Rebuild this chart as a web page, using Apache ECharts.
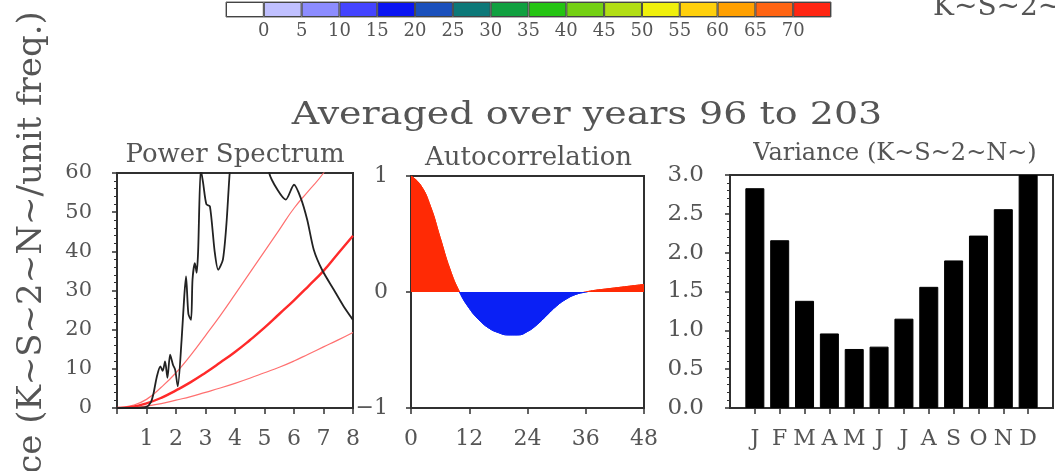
<!DOCTYPE html>
<html><head><meta charset="utf-8">
<script src="https://cdn.jsdelivr.net/npm/echarts@6/dist/echarts.min.js"></script>
<style>html,body{margin:0;padding:0;background:#fff}#c{width:1055px;height:471px}</style>
</head><body><div id="c"></div>
<script>
// ---------- data ----------
const CB_COLORS = ['#ffffff','#c0c0ff','#8c8cff','#4444ff','#0a14f2','#1a50bc','#0c7878','#10a040',
                   '#24c412','#74d012','#b2de14','#f0f00c','#ffd00c','#ffa000','#ff6412','#ff2612'];
const CB_LABELS = ['0','5','10','15','20','25','30','35','40','45','50','55','60','65','70'];

const PS_FREQ  = [0, 0.5, 1.0, 1.15, 1.24, 1.35, 1.47, 1.55, 1.63, 1.71, 1.80, 1.90, 1.97, 2.06, 2.19, 2.28, 2.34,
                  2.42, 2.51, 2.56, 2.64, 2.70, 2.75, 2.84, 2.92, 3.03, 3.15, 3.31, 3.43, 3.59, 3.71, 3.82, 4.0,
                  4.3, 4.7, 5.0, 5.16, 5.44, 5.72, 6.0, 6.23, 6.45, 6.67, 6.95, 7.35, 7.68, 8.0];
const PS_POWER = [0, 0, 0.3, 1.5, 3.8, 8, 10.6, 9.5, 11.9, 7.7, 13.6, 11, 9.8, 5.5, 17.4, 28.5, 33.6,
                  24, 22.5, 32.8, 37, 34.5, 40, 61, 57.4, 52, 51.5, 40, 35.3, 37.9, 47, 60, 75,
                  88, 90, 72, 60, 55.7, 53.2, 57, 53.6, 48, 40.4, 35.3, 30.2, 26, 22.5];

const RED_FREQ = [0, 0.5, 1, 1.5, 2, 2.5, 3, 3.5, 4, 4.5, 5, 5.5, 6, 6.5, 7, 7.5, 8];
const RED_MID  = [0, 0.3, 1.2, 2.6, 4.5, 6.6, 9.0, 11.6, 14.3, 17.3, 20.5, 24.0, 27.5, 31.2, 35.0, 39.5, 44.0];
const RED_HI   = [0, 0.6, 2.2, 5.3, 9.0, 13.5, 18.5, 23.6, 29.0, 34.5, 40.0, 45.5, 51.0, 55.5, 60.0, 66.0, 73.0];
const RED_LO   = [0, 0.1, 0.5, 1.1, 2.0, 2.9, 4.0, 5.1, 6.3, 7.6, 9.0, 10.4, 12.0, 13.8, 15.6, 17.4, 19.3];

const AC_LAG = [0, 2, 4, 6, 8, 10, 12, 14, 16, 18, 20, 22, 24, 26, 28, 30, 32, 34, 36, 38, 40, 42, 44, 46, 48];
const AC_VAL = [1.0, 0.92, 0.74, 0.47, 0.2, 0.0, -0.14, -0.24, -0.31, -0.35, -0.37, -0.37, -0.34, -0.28,
                -0.2, -0.12, -0.06, -0.02, 0.0, 0.015, 0.025, 0.035, 0.045, 0.055, 0.065];

const MONTHS   = ['J','F','M','A','M','J','J','A','S','O','N','D'];
const VARIANCE = [2.83, 2.16, 1.38, 0.96, 0.76, 0.79, 1.15, 1.56, 1.90, 2.22, 2.56, 3.0];

const MAIN_TITLE = 'Averaged over years 96 to 203';
const PANEL_TITLES = ['Power Spectrum', 'Autocorrelation', 'Variance (K~S~2~N~)'];
const Y_TITLE = 'Variance (K~S~2~N~/unit freq.)';
const TOP_RIGHT = 'K~S~2~N~)';

// ---------- chart ----------
const FONT = 'DejaVu Serif';
const TXT = '#555555';
const LINE = '#303030';
const AC_POS = '#ff2a05', AC_NEG = '#0a20f5';

function lbl(size, margin, extra) {
  return Object.assign({fontFamily: FONT, fontSize: size, color: TXT, margin: margin}, extra || {});
}
const axLine = {onZero: false, lineStyle: {color: LINE, width: 2}};
const tick = (len) => ({length: len, lineStyle: {color: LINE, width: 1.5}});

const chart = echarts.init(document.getElementById('c'), null, {renderer: 'canvas'});
const grids = [
  {left: 117, top: 173, width: 236, height: 235},
  {left: 411, top: 176, width: 233, height: 232},
  {left: 730, top: 175, width: 323, height: 233},
  {left: 226, top: 2, width: 605, height: 15}
].map(g => Object.assign({show: true, borderColor: LINE, borderWidth: 2, containLabel: false}, g));
grids[3].borderColor = '#666'; grids[3].borderWidth = 1;

const monthIdx = MONTHS.map((m, i) => i + 1);
const cbIdx = CB_LABELS.map((l, i) => i + 1);

const option = {
  animation: false,
  backgroundColor: '#fff',
  grid: grids,
  xAxis: [
    {gridIndex: 0, type: 'value', min: 0, max: 8, interval: 1, axisLine: axLine, axisTick: tick(6),
     axisLabel: lbl(22, 20, {formatter: v => v === 0 ? '' : String(v)}), splitLine: {show: false}},
    {gridIndex: 1, type: 'value', min: 0, max: 48, interval: 12, axisLine: axLine, axisTick: tick(6),
     axisLabel: lbl(22, 20), splitLine: {show: false}},
    {gridIndex: 2, type: 'value', min: 0, max: 13, interval: 1, axisLine: axLine,
     axisTick: Object.assign(tick(6), {customValues: monthIdx}),
     axisLabel: lbl(22, 20, {customValues: monthIdx, formatter: v => MONTHS[v - 1] || ''}), splitLine: {show: false}},
    {gridIndex: 3, type: 'category', data: CB_COLORS.map((c, i) => String(i)), show: false},
    {gridIndex: 3, type: 'value', min: 0, max: 16, interval: 1, position: 'bottom',
     axisLine: {show: false}, axisTick: {show: false}, splitLine: {show: false},
     axisLabel: lbl(18, 5, {customValues: cbIdx, formatter: v => CB_LABELS[v - 1] || ''})}
  ],
  yAxis: [
    {gridIndex: 0, type: 'value', min: 0, max: 60, interval: 10, axisLine: axLine, axisTick: tick(5),
     minorTick: {show: true, splitNumber: 5, length: 3, lineStyle: {color: LINE}},
     axisLabel: lbl(21, 25), splitLine: {show: false}},
    {gridIndex: 1, type: 'value', min: -1, max: 1, interval: 1, axisLine: axLine, axisTick: tick(5),
     axisLabel: lbl(22, 23, {formatter: v => v < 0 ? '\u2212' + Math.abs(v) : String(v)}), splitLine: {show: false}},
    {gridIndex: 2, type: 'value', min: 0, max: 3, interval: 0.5, axisLine: axLine, axisTick: tick(5),
     minorTick: {show: true, splitNumber: 5, length: 3, lineStyle: {color: LINE}},
     axisLabel: lbl(23, 26, {formatter: v => v.toFixed(1)}), splitLine: {show: false}},
    {gridIndex: 3, type: 'value', min: 0, max: 1, show: false}
  ],
  series: [
    {type: 'line', xAxisIndex: 0, yAxisIndex: 0, symbol: 'none', smooth: true, z: 2,
     lineStyle: {color: '#ff7070', width: 1.2}, data: RED_FREQ.map((f, i) => [f, RED_LO[i]])},
    {type: 'line', xAxisIndex: 0, yAxisIndex: 0, symbol: 'none', smooth: true, z: 2,
     lineStyle: {color: '#ff7070', width: 1.2}, data: RED_FREQ.map((f, i) => [f, RED_HI[i]])},
    {type: 'line', xAxisIndex: 0, yAxisIndex: 0, symbol: 'none', smooth: true, z: 2,
     lineStyle: {color: '#ff2a2a', width: 2.4}, data: RED_FREQ.map((f, i) => [f, RED_MID[i]])},
    {type: 'line', xAxisIndex: 0, yAxisIndex: 0, symbol: 'none', smooth: 0.25, z: 3,
     lineStyle: {color: '#222', width: 1.8}, data: PS_FREQ.map((f, i) => [f, PS_POWER[i]])},
    {type: 'line', xAxisIndex: 1, yAxisIndex: 1, symbol: 'none', smooth: true,
     lineStyle: {width: 1, color: AC_POS}, areaStyle: {opacity: 1, color: AC_POS},
     data: AC_LAG.map((l, i) => [l, AC_VAL[i]])},
    {type: 'bar', xAxisIndex: 2, yAxisIndex: 2, barWidth: 19,
     itemStyle: {color: '#000', borderColor: '#000', borderWidth: 1},
     data: MONTHS.map((m, i) => [i + 1, VARIANCE[i]])},
    {type: 'bar', xAxisIndex: 3, yAxisIndex: 3, barWidth: '100%', barCategoryGap: 0,
     itemStyle: {borderColor: '#444', borderWidth: 1},
     data: CB_COLORS.map(c => ({value: 1, itemStyle: {color: c}}))}
  ],
  graphic: [
    {type: 'text', x: 587, y: 115.5, scaleY: 0.83,
     style: {text: MAIN_TITLE, fontFamily: FONT, fontSize: 38, fill: TXT, align: 'center', verticalAlign: 'middle'}},
    {type: 'text', x: 235, y: 155,
     style: {text: PANEL_TITLES[0], fontFamily: FONT, fontSize: 26, fill: TXT, align: 'center', verticalAlign: 'middle'}},
    {type: 'text', x: 528.5, y: 158.5,
     style: {text: PANEL_TITLES[1], fontFamily: FONT, fontSize: 26, fill: TXT, align: 'center', verticalAlign: 'middle'}},
    {type: 'text', x: 895, y: 154,
     style: {text: PANEL_TITLES[2], fontFamily: FONT, fontSize: 24, fill: TXT, align: 'center', verticalAlign: 'middle'}},
    {type: 'text', x: 32, y: 298, rotation: Math.PI / 2,
     style: {text: Y_TITLE, fontFamily: FONT, fontSize: 34, fill: TXT, align: 'center', verticalAlign: 'middle'}},
    {type: 'text', x: 933, y: 8,
     style: {text: TOP_RIGHT, fontFamily: FONT, fontSize: 28, fill: TXT, align: 'left', verticalAlign: 'middle'}}
  ]
};
chart.setOption(option);

// Autocorrelation fill: red above the zero line, blue below (hard stop at y = 0 of panel 2)
const finder = {xAxisIndex: 1, yAxisIndex: 1};
const yTop = chart.convertToPixel(finder, [0, 1])[1];
const yZero = chart.convertToPixel(finder, [0, 0])[1];
const yBot = chart.convertToPixel(finder, [0, -1])[1];
const off = (yZero - yTop) / (yBot - yTop);
const grad = new echarts.graphic.LinearGradient(0, yTop, 0, yBot, [
  {offset: 0, color: AC_POS}, {offset: off, color: AC_POS},
  {offset: off, color: AC_NEG}, {offset: 1, color: AC_NEG}
], true);
chart.setOption({series: [{}, {}, {}, {}, {lineStyle: {color: grad}, areaStyle: {color: grad}}]});
</script>
</body></html>
